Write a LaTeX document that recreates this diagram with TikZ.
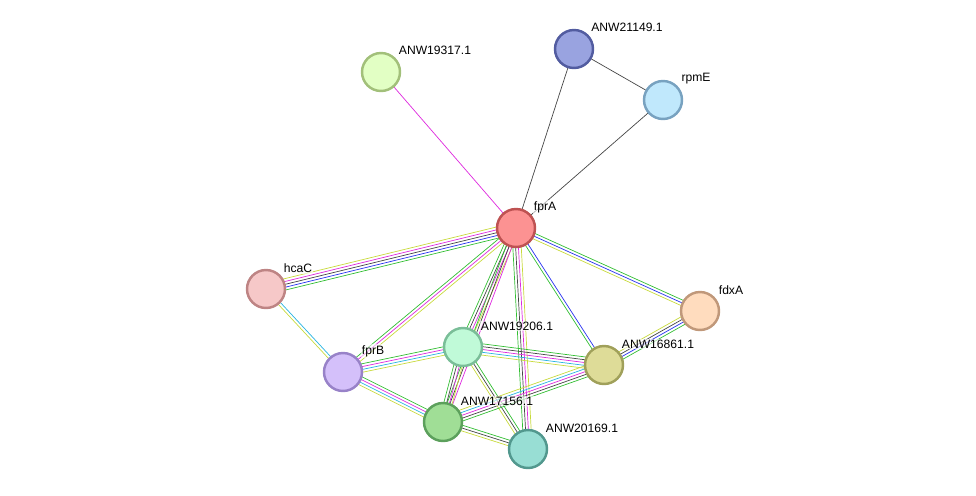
\documentclass[tikz,border=0pt]{standalone}
\usepackage{fontspec}
\setmainfont{Liberation Sans}
\usetikzlibrary{calc,backgrounds}

\definecolor{ctext}{RGB}{200,218,60}
\definecolor{cexp}{RGB}{222,40,222}
\definecolor{ccoex}{RGB}{70,70,70}
\definecolor{cocc}{RGB}{40,50,240}
\definecolor{cnbr}{RGB}{50,190,50}
\definecolor{ccur}{RGB}{40,180,225}

% several parallel lines between two nodes, one per colour
\newcommand{\linkbundle}[3]{%
  \foreach \c [count=\k] in {#3} {\xdef\nlines{\k}}%
  \foreach \c [count=\k] in {#3} {%
    \pgfmathsetmacro\off{(\k-(\nlines+1)/2)*1.6}
    \draw[\c] ($(#1)!\off pt!90:(#2)$) -- ($(#2)!\off pt!-90:(#1)$);
  }%
}

\begin{document}
\begin{tikzpicture}[x=0.02cm,y=-0.02cm,
  prot/.style={circle,inner sep=0pt,minimum size=0.76cm,line width=1.4pt},
  lbl/.style={font=\fontsize{6.9}{8}\selectfont,fill=white,fill opacity=0.6,text opacity=1,inner sep=0.6pt}]
\useasboundingbox (0,0) rectangle (976,495);

\node[prot,fill={rgb,255:red,252;green,146;blue,146},draw={rgb,255:red,190;green,82;blue,82}] (fprA) at (516,228) {};
\node[prot,fill={rgb,255:red,153;green,163;blue,224},draw={rgb,255:red,82;green,92;blue,160}] (a21149) at (574,49) {};
\node[prot,fill={rgb,255:red,192;green,232;blue,252},draw={rgb,255:red,120;green,162;blue,192}] (rpmE) at (663,100) {};
\node[prot,fill={rgb,255:red,226;green,255;blue,196},draw={rgb,255:red,162;green,192;blue,122}] (a19317) at (381,72) {};
\node[prot,fill={rgb,255:red,246;green,200;blue,200},draw={rgb,255:red,190;green,132;blue,132}] (hcaC) at (266,289) {};
\node[prot,fill={rgb,255:red,255;green,220;blue,190},draw={rgb,255:red,192;green,152;blue,122}] (fdxA) at (700,311) {};
\node[prot,fill={rgb,255:red,192;green,250;blue,216},draw={rgb,255:red,122;green,190;blue,152}] (a19206) at (463,347) {};
\node[prot,fill={rgb,255:red,212;green,192;blue,250},draw={rgb,255:red,152;green,130;blue,200}] (fprB) at (343,372) {};
\node[prot,fill={rgb,255:red,222;green,220;blue,152},draw={rgb,255:red,160;green,160;blue,90}] (a16861) at (604,365) {};
\node[prot,fill={rgb,255:red,160;green,222;blue,150},draw={rgb,255:red,92;green,160;blue,92}] (a17156) at (443,422) {};
\node[prot,fill={rgb,255:red,152;green,222;blue,212},draw={rgb,255:red,82;green,152;blue,142}] (a20169) at (528,449) {};

\node[lbl] (tfprA) at (545,207) {fprA};
\node[lbl] (t21149) at (627,27) {ANW21149.1};
\node[lbl] (trpmE) at (696,79) {rpmE};
\node[lbl] (t19317) at (435,50) {ANW19317.1};
\node[lbl] (thcaC) at (298,268) {hcaC};
\node[lbl] (tfdxA) at (731,290) {fdxA};
\node[lbl] (t19206) at (517,326) {ANW19206.1};
\node[lbl] (tfprB) at (373,351) {fprB};
\node[lbl] (t16861) at (658,344) {ANW16861.1};
\node[lbl] (t17156) at (497,401) {ANW17156.1};
\node[lbl] (t20169) at (582,428) {ANW20169.1};

\begin{scope}[on background layer,line width=0.85pt]
\linkbundle{fprA}{a19317}{cexp}
\linkbundle{fprA}{a21149}{ccoex}
\linkbundle{fprA}{rpmE}{ccoex}
\linkbundle{a21149}{rpmE}{ccoex}
\linkbundle{fprA}{hcaC}{ctext,cexp,ccoex,cocc,cnbr}
\linkbundle{hcaC}{fprB}{ctext,ccur}
\linkbundle{fprA}{fprB}{cnbr,cexp,ctext}
\linkbundle{fprA}{a19206}{cnbr,ccoex,cexp,ctext}
\linkbundle{fprA}{a17156}{cnbr,ccoex,cexp}
\linkbundle{fprA}{a20169}{cnbr,ccoex,cexp,ctext}
\linkbundle{fprA}{a16861}{cnbr,cocc}
\linkbundle{fprA}{fdxA}{ctext,cocc,cnbr}
\linkbundle{fdxA}{a16861}{ctext,ccoex,cocc,cnbr}
\linkbundle{a19206}{fprB}{cnbr,cexp,ccur,ctext}
\linkbundle{a19206}{a16861}{ctext,ccur,cexp,ccoex,cnbr}
\linkbundle{a19206}{a17156}{cnbr,ccoex,cexp,ctext}
\linkbundle{a19206}{a20169}{ctext,ccoex,cnbr}
\linkbundle{fprB}{a17156}{ctext,ccur,cexp,cnbr}
\linkbundle{a17156}{a16861}{cnbr,ccoex,cexp,ccur,ctext}
\linkbundle{a17156}{a20169}{ctext,ccoex,cnbr}
\end{scope}
\end{tikzpicture}
\end{document}
